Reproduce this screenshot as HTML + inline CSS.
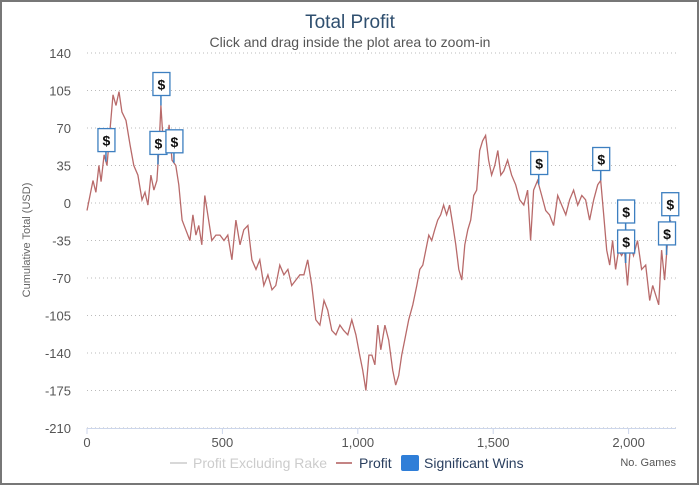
<!DOCTYPE html>
<html><head><meta charset="utf-8"><style>
body{margin:0;background:#fff;}
svg text{font-family:"Liberation Sans","DejaVu Sans",sans-serif;}
</style></head><body>
<svg id="c" width="700" height="486" viewBox="0 0 700 486">
<rect x="1" y="1" width="697" height="483" fill="#fff" stroke="#777" stroke-width="2"/>
<text x="350" y="28" text-anchor="middle" font-size="19" fill="#2f4f6f">Total Profit</text>
<text x="350" y="47" text-anchor="middle" font-size="14" fill="#555">Click and drag inside the plot area to zoom-in</text>
<text transform="translate(30,240) rotate(-90)" text-anchor="middle" font-size="11" fill="#666">Cumulative Total (USD)</text>
<g id="grid"></g><g id="xt"></g><g id="yt"></g><g id="series"></g><g id="flags"></g>
<line x1="87" y1="428.5" x2="676" y2="428.5" stroke="#ccd6eb"/>
<g>
<g><line x1="170" y1="463" x2="187" y2="463" stroke="#ccc" stroke-width="1.5"/><text x="193" y="468" font-size="14" fill="#ccc" textLength="134">Profit Excluding Rake</text></g>
<g><line x1="336" y1="463" x2="352" y2="463" stroke="#b05a5a" stroke-width="1.5"/><text x="359" y="468" font-size="14" fill="#2a3f5f">Profit</text></g>
<g><rect x="401" y="455" width="18" height="16" rx="2" fill="#2f7ed8"/><text x="424" y="468" font-size="14" fill="#2a3f5f">Significant Wins</text></g>
</g>
<text x="676" y="466" text-anchor="end" font-size="11" fill="#555">No. Games</text>
</svg>
<script>
const games=[0,11,22,33,44,52,63,74,85,96,107,118,129,144,159,173,188,203,214,225,236,247,258,266,273,280,292,303,314,328,339,351,365,380,391,402,413,424,435,446,461,476,491,506,520,535,550,565,579,594,609,624,638,653,668,683,697,712,727,742,756,771,786,801,815,830,845,860,875,889,904,919,934,948,963,978,993,1007,1018,1030,1041,1052,1063,1074,1085,1100,1114,1129,1140,1151,1162,1173,1188,1203,1218,1229,1240,1251,1262,1273,1284,1295,1306,1317,1328,1339,1351,1362,1373,1384,1395,1406,1417,1428,1439,1450,1461,1472,1483,1494,1506,1517,1528,1539,1553,1568,1583,1598,1613,1627,1638,1649,1664,1679,1694,1708,1723,1738,1753,1768,1782,1797,1812,1827,1841,1856,1871,1886,1897,1908,1919,1930,1941,1952,1963,1974,1985,1996,2007,2018,2033,2048,2063,2078,2089,2100,2111,2122,2133,2144,2155];
const profit=[-7,7,21,10,35,20,45,35,68,101,91,104,85,77,54,35,26,3,10,-2,26,12,21,51,91,63,49,73,40,35,17,-16,-25,-35,-11,-30,-21,-39,7,-11,-35,-30,-30,-35,-30,-53,-16,-39,-25,-21,-53,-62,-53,-77,-67,-81,-77,-58,-67,-62,-77,-72,-67,-67,-53,-77,-109,-114,-91,-100,-119,-123,-114,-119,-123,-109,-123,-142,-156,-175,-142,-142,-151,-114,-137,-114,-128,-156,-170,-161,-142,-128,-109,-95,-77,-62,-58,-44,-30,-35,-25,-16,-11,-2,-11,-2,-21,-39,-62,-72,-39,-25,-16,7,12,49,58,63,40,26,35,49,26,30,40,26,17,3,-2,12,-35,12,21,7,-7,-11,-21,7,-2,-11,3,12,-2,7,3,-16,3,17,21,-11,-44,-58,-35,-62,-44,-49,-44,-77,-39,-49,-35,-62,-58,-91,-77,-86,-95,-44,-72,-35,-16];
const flagGames=[70,273,262,321,1668,1897,1989,1989,2152,2140];
const flagStack=[0,0,0,0,0,0,1,0,0,0];
const yTicks=[140,105,70,35,0,-35,-70,-105,-140,-175,-210];
const xTicks=[0,500,1000,1500,2000];
const xTickLabels=["0","500","1,000","1,500","2,000"];
const NS='http://www.w3.org/2000/svg';
const X0=87,X1=676,Y0=53,Y1=428,XMAX=2175,YMIN=-210,YMAX=140;
const xs=g=>X0+(g/XMAX)*(X1-X0);
const ys=v=>Y0+(YMAX-v)/(YMAX-YMIN)*(Y1-Y0);
function mk(t,a,p){const e=document.createElementNS(NS,t);for(const k in a)e.setAttribute(k,a[k]);p.appendChild(e);return e;}
const grid=document.getElementById('grid'),yt=document.getElementById('yt'),xt=document.getElementById('xt');
yTicks.forEach(v=>{
 const l=mk('line',{x1:X0,x2:X1,y1:ys(v),y2:ys(v),stroke:'#bbb','stroke-dasharray':'1,3'},grid);
 
 
 const t=mk('text',{x:71,y:ys(v)+5,'text-anchor':'end','font-size':13,fill:'#555'},yt);
 t.textContent=v;
 
 
});
xTicks.forEach((g,i)=>{
 const tk=mk('line',{x1:xs(g),x2:xs(g),y1:Y1,y2:Y1+6,stroke:'#ccd6eb'},xt);
 
 
 const t=mk('text',{x:xs(g),y:Y1+19,'text-anchor':'middle','font-size':13,fill:'#555'},xt);
 t.textContent=xTickLabels[i];
 
 
});
const pts=games.map((g,i)=>xs(g).toFixed(1)+','+ys(profit[i]).toFixed(1)).join(' ');
const line=mk('polyline',{points:pts,fill:'none',stroke:'#b86a6a','stroke-width':1.3},document.getElementById('series'));


function valAt(g){for(let i=1;i<games.length;i++){if(games[i]>=g){const f=(g-games[i-1])/(games[i]-games[i-1]);return profit[i-1]+f*(profit[i]-profit[i-1]);}}return profit[profit.length-1];}
const fl=document.getElementById('flags');
flagGames.forEach((g,i)=>{
 const x=xs(g),y=ys(valAt(g));
 const bottom=y-10-flagStack[i]*30;
 const grp=mk('g',{},fl);
 
 
 mk('line',{x1:x,x2:x,y1:y,y2:bottom,stroke:'#3d7fc0','stroke-width':1.5},grp);
 mk('rect',{x:x-8,y:bottom-23,width:17,height:23,fill:'#fff',stroke:'#3d7fc0','stroke-width':1.3},grp);
 const t=mk('text',{x:x+0.5,y:bottom-6,'text-anchor':'middle','font-size':14,'font-weight':'bold',fill:'#111'},grp);
 t.textContent='$';
});
</script>
</body></html>
